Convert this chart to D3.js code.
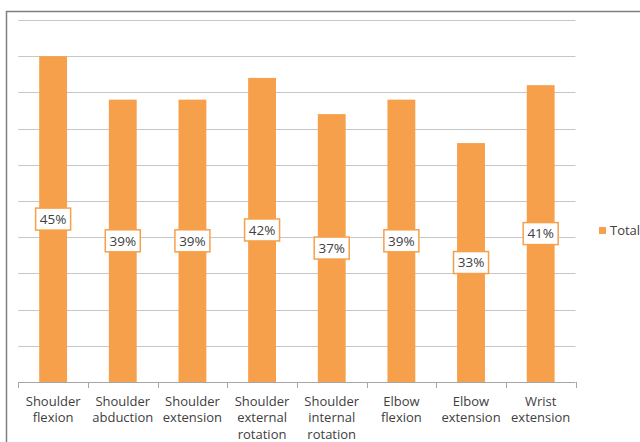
<!DOCTYPE html>
<html>
<head>
<meta charset="utf-8">
<script src="https://cdn.jsdelivr.net/npm/d3@7"></script>
<style>
  html, body { margin: 0; padding: 0; background: #fff; }
  svg { display: block; }
  text { font-family: "Open Sans", "Noto Sans", sans-serif; fill: #404040; }
</style>
</head>
<body>
<svg id="chart" width="640" height="442"></svg>
<script>
// Share of participants per movement (percent)
const categories = [
  ["Shoulder", "flexion"],
  ["Shoulder", "abduction"],
  ["Shoulder", "extension"],
  ["Shoulder", "external", "rotation"],
  ["Shoulder", "internal", "rotation"],
  ["Elbow", "flexion"],
  ["Elbow", "extension"],
  ["Wrist", "extension"]
];
const totals = [45, 39, 39, 42, 37, 39, 33, 41];
const seriesName = "Total";
const gridTicks = [0, 5, 10, 15, 20, 25, 30, 35, 40, 45, 50];

const barColor = "#F6A04B";
const svg = d3.select("#chart");

// outer frame
svg.append("rect")
  .attr("x", 6.5).attr("y", 11.5)
  .attr("width", 660).attr("height", 460)
  .attr("fill", "none").attr("stroke", "#7f7f7f").attr("stroke-width", 1.5);

const plot = { left: 18.3, right: 575.5, top: 20, bottom: 382 };

const keys = categories.map((c, i) => i);
const x = d3.scaleBand().domain(keys).range([plot.left, plot.right]).padding(0);
const y = d3.scaleLinear().domain([0, 50]).range([plot.bottom, plot.top]);

// horizontal gridlines
svg.append("g")
  .selectAll("line")
  .data(gridTicks.filter(t => t > 0))
  .join("line")
  .attr("x1", plot.left).attr("x2", plot.right)
  .attr("y1", d => Math.round(y(d)) + 0.5).attr("y2", d => Math.round(y(d)) + 0.5)
  .attr("stroke", "#c6c6c6").attr("stroke-width", 1);

// bars
const bw = x.bandwidth() * 0.4;
svg.append("g")
  .selectAll("rect")
  .data(totals)
  .join("rect")
  .attr("x", (d, i) => x(i) + (x.bandwidth() - bw) / 2)
  .attr("y", d => y(d))
  .attr("width", bw)
  .attr("height", d => y(0) - y(d))
  .attr("fill", barColor);

// category axis with boundary ticks
const axisG = svg.append("g");
axisG.append("line")
  .attr("x1", plot.left).attr("x2", plot.right)
  .attr("y1", plot.bottom + 0.5).attr("y2", plot.bottom + 0.5)
  .attr("stroke", "#a6a6a6");
const boundaries = keys.map(k => x(k)).concat([plot.right]);
axisG.selectAll("line.tick")
  .data(boundaries)
  .join("line")
  .attr("class", "tick")
  .attr("x1", d => Math.round(d) + 0.5).attr("x2", d => Math.round(d) + 0.5)
  .attr("y1", plot.bottom).attr("y2", plot.bottom + 6)
  .attr("stroke", "#a6a6a6");

const labelG = axisG.selectAll("text.cat")
  .data(categories)
  .join("text")
  .attr("class", "cat")
  .attr("text-anchor", "middle")
  .attr("font-size", 13)
  .attr("x", (d, i) => x(i) + x.bandwidth() / 2)
  .attr("y", 405.5);
labelG.selectAll("tspan")
  .data(d => d)
  .join("tspan")
  .attr("x", function () { return d3.select(this.parentNode).attr("x"); })
  .attr("dy", (d, i) => i === 0 ? 0 : 16.5)
  .text(d => d);

// value labels centred on each bar
const valG = svg.append("g")
  .selectAll("g")
  .data(totals)
  .join("g")
  .attr("transform", (d, i) => `translate(${x(i) + x.bandwidth() / 2},${(y(d) + y(0)) / 2})`);
valG.append("rect")
  .attr("x", -17.5).attr("y", -11)
  .attr("width", 35).attr("height", 22)
  .attr("fill", "#fff").attr("stroke", barColor).attr("stroke-width", 1.5);
valG.append("text")
  .attr("text-anchor", "middle")
  .attr("dy", "0.36em")
  .attr("font-size", 13.5)
  .text(d => d + "%");

// legend
const leg = svg.append("g").attr("transform", "translate(599,227)");
leg.append("rect").attr("width", 7).attr("height", 7).attr("fill", barColor);
leg.append("text").attr("x", 11).attr("y", 3.5).attr("dy", "0.36em")
  .attr("font-size", 13).text(seriesName);
</script>
</body>
</html>
